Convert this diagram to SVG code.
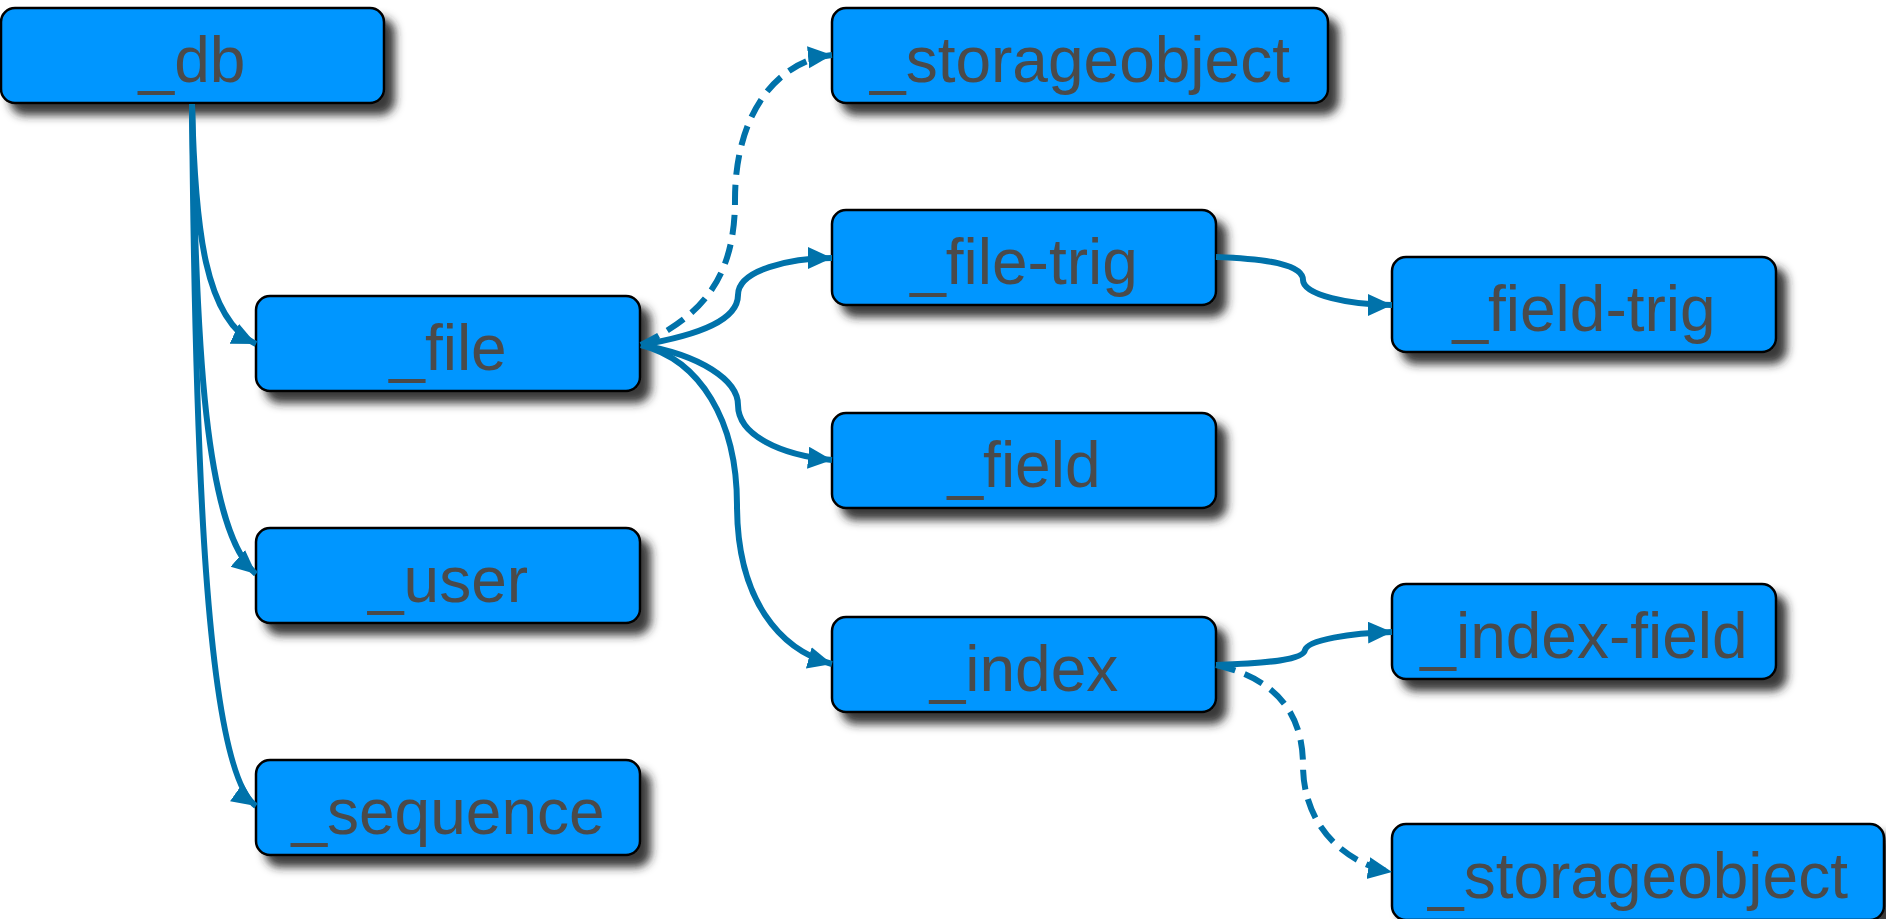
<svg xmlns="http://www.w3.org/2000/svg" width="1886" height="919" viewBox="0 0 1886 919">
<style>
.box{fill:#0096FF;stroke:#000;stroke-width:2.5;filter:url(#sh)}
.lbl{font-family:"Liberation Sans",Arial,sans-serif;font-size:64px;fill:#4a4a4a;text-anchor:middle}
.c{fill:none;stroke:#0072AA;stroke-width:6;marker-end:url(#arr)}
.d{stroke-dasharray:20 10}
</style>
<defs>
<filter id="sh" x="-10%" y="-20%" width="130%" height="170%">
<feDropShadow dx="10" dy="11" stdDeviation="5" flood-color="#222" flood-opacity="0.9"/>
</filter>
<marker id="arr" markerUnits="userSpaceOnUse" markerWidth="26" markerHeight="24" refX="24" refY="11" orient="auto" viewBox="0 0 26 24">
<path d="M0,0 L24,11 L0,22 z" fill="#0072AA"/>
</marker>
</defs>
<g id="n_db"><rect class="box" x="1" y="8" width="383" height="95" rx="14"/><text class="lbl" x="192" y="82">_db</text></g>
<g id="n_file"><rect class="box" x="256" y="296" width="384" height="95" rx="14"/><text class="lbl" x="448" y="370">_file</text></g>
<g id="n_user"><rect class="box" x="256" y="528" width="384" height="95" rx="14"/><text class="lbl" x="448" y="602">_user</text></g>
<g id="n_sequence"><rect class="box" x="256" y="760" width="384" height="95" rx="14"/><text class="lbl" x="448" y="834">_sequence</text></g>
<g id="n_storageobject1"><rect class="box" x="832" y="8" width="496" height="95" rx="14"/><text class="lbl" x="1080" y="82">_storageobject</text></g>
<g id="n_filetrig"><rect class="box" x="832" y="210" width="384" height="95" rx="14"/><text class="lbl" x="1024" y="284">_file-trig</text></g>
<g id="n_field"><rect class="box" x="832" y="413" width="384" height="95" rx="14"/><text class="lbl" x="1024" y="487">_field</text></g>
<g id="n_index"><rect class="box" x="832" y="617" width="384" height="95" rx="14"/><text class="lbl" x="1024" y="691">_index</text></g>
<g id="n_fieldtrig"><rect class="box" x="1392" y="257" width="384" height="95" rx="14"/><text class="lbl" x="1584" y="331">_field-trig</text></g>
<g id="n_indexfield"><rect class="box" x="1392" y="584" width="384" height="95" rx="14"/><text class="lbl" x="1584" y="658">_index-field</text></g>
<g id="n_storageobject2"><rect class="box" x="1392" y="824" width="492" height="96" rx="14"/><text class="lbl" x="1638" y="898">_storageobject</text></g>
<g id="connectors">
<path class="c" d="M192,104 C195,230 205,320 256,344"/>
<path class="c" d="M192,104 C196,350 205,530 256,574"/>
<path class="c" d="M192,104 C195,450 205,770 256,806"/>
<path class="c d" d="M641,345 C690,320 735,290 735,200 C735,110 780,60 832,55"/>
<path class="c" d="M641,345 C700,335 738,320 738,295 C738,270 790,258 832,258"/>
<path class="c" d="M641,345 C700,355 738,380 738,405 C738,435 780,455 832,460"/>
<path class="c" d="M641,345 C700,360 737,420 737,505 C737,600 780,650 832,664"/>
<path class="c" d="M1216,257 C1270,259 1303,265 1303,280 C1303,295 1350,305 1392,305"/>
<path class="c" d="M1216,665 C1270,663 1303,660 1305,650 C1308,640 1350,633 1392,632"/>
<path class="c d" d="M1216,665 C1260,675 1303,700 1303,765 C1303,830 1350,865 1392,872"/>
</g>
</svg>
